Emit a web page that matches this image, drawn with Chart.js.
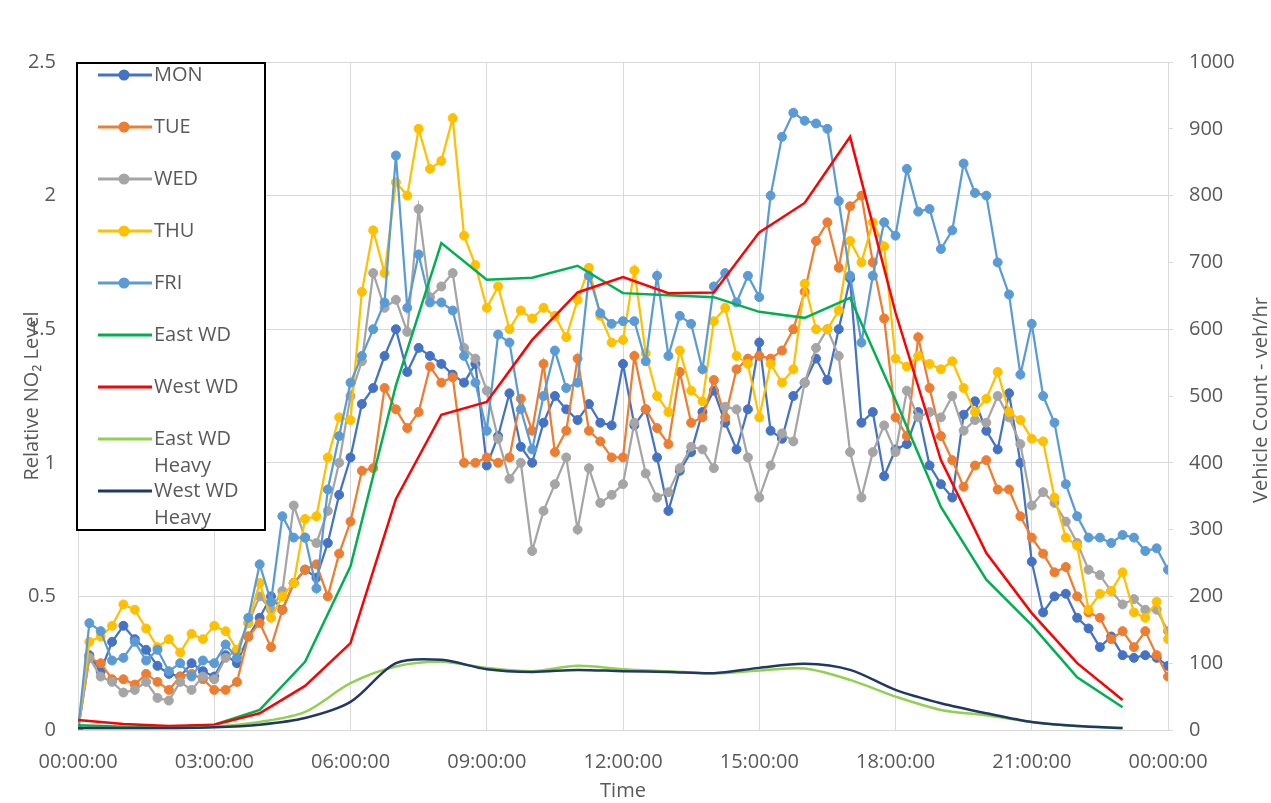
<!DOCTYPE html>
<html>
<head>
<meta charset="utf-8">
<script src="https://cdn.jsdelivr.net/npm/chart.js@4.4.1/dist/chart.umd.min.js"></script>
<style>
  html, body { margin: 0; padding: 0; background: #fff; }
  #wrap { width: 1271px; height: 803px; position: relative; }
</style>
</head>
<body>
<div id="wrap"><canvas id="no2Chart"></canvas></div>
<script>
// relative NO2 level, one reading per 15 minutes from 00:00 to 24:00
const MON = [0, 0.28, 0.22, 0.33, 0.39, 0.34, 0.30, 0.24, 0.21, 0.20, 0.25, 0.22, 0.20, 0.28, 0.25, 0.35,
  0.42, 0.50, 0.45, 0.55, 0.60, 0.57, 0.70, 0.88, 1.02, 1.22, 1.28, 1.40, 1.50, 1.34, 1.43, 1.40,
  1.37, 1.33, 1.30, 1.37, 0.99, 1.10, 1.26, 1.06, 1.00, 1.15, 1.25, 1.20, 1.16, 1.22, 1.15, 1.14,
  1.37, 1.14, 1.20, 1.02, 0.82, 0.97, 1.04, 1.19, 1.27, 1.15, 1.05, 1.20, 1.45, 1.12, 1.09, 1.25,
  1.30, 1.39, 1.31, 1.50, 1.69, 1.15, 1.19, 0.95, 1.05, 1.07, 1.19, 0.99, 0.92, 0.87, 1.18, 1.23,
  1.12, 1.05, 1.26, 1.00, 0.63, 0.44, 0.50, 0.51, 0.42, 0.38, 0.31, 0.35, 0.28, 0.27, 0.28, 0.27, 0.24]
const TUE = [0, 0.27, 0.25, 0.19, 0.19, 0.17, 0.21, 0.18, 0.15, 0.20, 0.21, 0.19, 0.15, 0.15, 0.18, 0.35,
  0.40, 0.31, 0.45, 0.55, 0.60, 0.62, 0.50, 0.66, 0.78, 0.97, 0.98, 1.28, 1.20, 1.13, 1.19, 1.36,
  1.30, 1.32, 1.00, 1.00, 1.02, 1.00, 1.02, 1.24, 1.12, 1.37, 1.04, 1.12, 1.39, 1.12, 1.08, 1.02,
  1.02, 1.40, 1.20, 1.13, 1.07, 1.34, 1.15, 1.17, 1.31, 1.17, 1.35, 1.39, 1.40, 1.39, 1.42, 1.50,
  1.64, 1.83, 1.90, 1.73, 1.96, 2.00, 1.75, 1.54, 1.17, 1.10, 1.47, 1.28, 1.10, 1.01, 0.91, 0.99,
  1.01, 0.90, 0.90, 0.80, 0.72, 0.66, 0.59, 0.61, 0.50, 0.44, 0.42, 0.34, 0.37, 0.31, 0.37, 0.28, 0.20]
const WED = [0, 0.27, 0.20, 0.18, 0.14, 0.15, 0.18, 0.12, 0.11, 0.18, 0.15, 0.20, 0.19, 0.27, 0.30, 0.40,
  0.50, 0.45, 0.52, 0.84, 0.72, 0.70, 0.82, 1.00, 1.25, 1.38, 1.71, 1.58, 1.61, 1.49, 1.95, 1.62,
  1.66, 1.71, 1.43, 1.39, 1.27, 1.09, 0.94, 1.00, 0.67, 0.82, 0.92, 1.02, 0.75, 0.98, 0.85, 0.88,
  0.92, 1.15, 0.96, 0.87, 0.89, 0.98, 1.06, 1.05, 0.98, 1.21, 1.20, 1.02, 0.87, 0.99, 1.11, 1.08,
  1.30, 1.43, 1.50, 1.40, 1.04, 0.87, 1.04, 1.14, 1.04, 1.27, 1.17, 1.19, 1.17, 1.25, 1.12, 1.16,
  1.15, 1.25, 1.17, 1.07, 0.84, 0.89, 0.85, 0.78, 0.70, 0.60, 0.58, 0.52, 0.47, 0.49, 0.45, 0.45, 0.37]
const THU = [0, 0.33, 0.35, 0.39, 0.47, 0.45, 0.38, 0.31, 0.34, 0.29, 0.36, 0.34, 0.39, 0.37, 0.30, 0.40,
  0.55, 0.42, 0.50, 0.55, 0.79, 0.80, 1.02, 1.17, 1.16, 1.64, 1.87, 1.71, 2.05, 2.00, 2.25, 2.10,
  2.13, 2.29, 1.85, 1.74, 1.58, 1.66, 1.50, 1.57, 1.54, 1.58, 1.55, 1.47, 1.61, 1.73, 1.55, 1.45,
  1.46, 1.72, 1.41, 1.25, 1.19, 1.42, 1.27, 1.23, 1.53, 1.58, 1.40, 1.37, 1.17, 1.37, 1.30, 1.35,
  1.67, 1.50, 1.50, 1.57, 1.83, 1.75, 1.90, 1.81, 1.39, 1.36, 1.40, 1.37, 1.35, 1.38, 1.28, 1.19,
  1.24, 1.34, 1.19, 1.16, 1.09, 1.08, 0.87, 0.72, 0.69, 0.45, 0.51, 0.52, 0.59, 0.44, 0.42, 0.48, 0.34]
const FRI = [0, 0.40, 0.37, 0.26, 0.27, 0.33, 0.26, 0.30, 0.22, 0.25, 0.20, 0.26, 0.25, 0.32, 0.27, 0.42,
  0.62, 0.48, 0.80, 0.72, 0.72, 0.53, 0.90, 1.10, 1.30, 1.40, 1.50, 1.60, 2.15, 1.58, 1.78, 1.60,
  1.60, 1.57, 1.40, 1.30, 1.12, 1.48, 1.45, 1.20, 1.05, 1.25, 1.42, 1.28, 1.30, 1.70, 1.56, 1.52,
  1.53, 1.53, 1.38, 1.70, 1.40, 1.55, 1.52, 1.35, 1.66, 1.71, 1.60, 1.70, 1.62, 2.00, 2.22, 2.31,
  2.28, 2.27, 2.25, 1.98, 1.70, 1.45, 1.70, 1.90, 1.85, 2.10, 1.94, 1.95, 1.80, 1.87, 2.12, 2.01,
  2.00, 1.75, 1.63, 1.33, 1.52, 1.25, 1.15, 0.92, 0.80, 0.72, 0.72, 0.70, 0.73, 0.72, 0.67, 0.68, 0.60]

// weekday vehicle counts (veh/hr), hourly
const trafficHours = [0, 1, 2, 3, 4, 5, 6, 7, 8, 9, 10, 11, 12, 13, 14, 15, 16, 17, 18, 19, 20, 21, 22, 23]
const eastWD = [7, 5, 4, 8, 30, 102, 245, 516, 729, 674, 677, 695, 654, 651, 648, 626, 617, 647, 494, 334, 225, 157, 79, 34]
const westWD = [15, 9, 6, 8, 25, 66, 130, 346, 472, 491, 584, 655, 678, 654, 655, 745, 789, 888, 625, 404, 265, 175, 100, 45]
const eastHeavy = [3, 3, 3, 5, 12, 27, 70, 95, 102, 93, 88, 96, 91, 88, 85, 89, 92, 75, 50, 30, 22, 12, 6, 3]
const westHeavy = [3, 3, 3, 4, 8, 18, 42, 100, 105, 91, 87, 90, 88, 87, 85, 93, 99, 90, 60, 40, 25, 12, 6, 3]

const slotMinutes = 15
const xTickStep = 180 // minutes between time labels

const grey = '#595959'
const gridGrey = '#D9D9D9'
const axisFont = "20px 'Open Sans', sans-serif"
Chart.defaults.font.family = "'Open Sans', sans-serif"

const toPoints = (values) => values.map((v, i) => ({ x: i * slotMinutes, y: v }))
const toHourly = (values) => values.map((v, i) => ({ x: trafficHours[i] * 60, y: v }))

const daySeries = (label, values, color, order) => ({
  label, data: toPoints(values), yAxisID: 'y', order,
  borderColor: color, backgroundColor: color,
  borderWidth: 2.25, pointRadius: 4.5, pointBorderWidth: 1,
  pointBackgroundColor: color, pointBorderColor: color, tension: 0,
})
const trafficSeries = (label, values, color, order, tension) => ({
  label, data: toHourly(values), yAxisID: 'y2', order,
  borderColor: color, backgroundColor: color,
  borderWidth: 2.5, pointRadius: 0, tension,
})

const pad2 = (n) => String(n).padStart(2, '0')

// legend drawn as a framed box inside the plot, like the spreadsheet original
const boxLegend = {
  id: 'boxLegend',
  afterDraw(chart) {
    const { ctx } = chart
    ctx.save()
    ctx.fillStyle = '#fff'
    ctx.fillRect(77, 63, 188, 467)
    ctx.strokeStyle = '#000'
    ctx.lineWidth = 2
    ctx.strokeRect(77, 63, 188, 467)
    ctx.font = axisFont
    ctx.textBaseline = 'middle'
    chart.data.datasets.forEach((ds, k) => {
      const y = 75 + k * 52
      ctx.strokeStyle = ds.borderColor
      ctx.lineWidth = 3
      ctx.beginPath()
      ctx.moveTo(98, y)
      ctx.lineTo(152, y)
      ctx.stroke()
      if (ds.pointRadius > 0) {
        ctx.fillStyle = ds.borderColor
        ctx.beginPath()
        ctx.arc(124, y, 5.5, 0, Math.PI * 2)
        ctx.fill()
      }
      ctx.fillStyle = grey
      const lines = Array.isArray(ds.legendText) ? ds.legendText : [ds.label]
      lines.forEach((t, j) => ctx.fillText(t, 154, y + j * 27))
    })

    // right axis title reads bottom to top, as on the left
    const area = chart.chartArea
    ctx.translate(1261, (area.top + area.bottom) / 2 + 4)
    ctx.rotate(-Math.PI / 2)
    ctx.textAlign = 'center'
    ctx.fillText('Vehicle Count - veh/hr', 0, 0)
    ctx.restore()
  }
}

const datasets = [
  daySeries('MON', MON, '#4472C4', 9),
  daySeries('TUE', TUE, '#ED7D31', 8),
  daySeries('WED', WED, '#A5A5A5', 7),
  daySeries('THU', THU, '#FFC000', 6),
  daySeries('FRI', FRI, '#5B9BD5', 5),
  trafficSeries('East WD', eastWD, '#00B050', 4, 0),
  trafficSeries('West WD', westWD, '#FF0000', 3, 0),
  trafficSeries('East WD Heavy', eastHeavy, '#92D050', 2, 0.3),
  trafficSeries('West WD Heavy', westHeavy, '#203864', 1, 0.3),
]
datasets[7].legendText = ['East WD', 'Heavy']
datasets[8].legendText = ['West WD', 'Heavy']

new Chart(document.getElementById('no2Chart'), {
  type: 'line',
  data: { datasets },
  options: {
    responsive: true,
    maintainAspectRatio: false,
    animation: false,
    layout: { padding: { top: 62, left: 0, right: 0, bottom: 0 } },
    plugins: { legend: { display: false }, tooltip: { enabled: false } },
    scales: {
      x: {
        type: 'linear', min: 0, max: 1440,
        afterFit: (s) => { s.height = 73 },
        border: { display: false },
        grid: { color: gridGrey, drawTicks: false },
        ticks: {
          stepSize: xTickStep, autoSkip: false, maxRotation: 0,
          color: grey, font: { size: 20 }, padding: 20,
          callback: (v) => pad2((v / 60) % 24) + ':00:00',
        },
        title: { display: true, text: 'Time', color: grey, font: { size: 20 }, padding: { top: 10, bottom: 0 } },
      },
      y: {
        position: 'left', min: 0, max: 2.5,
        afterFit: (s) => { s.width = 78 },
        border: { display: false },
        grid: { color: gridGrey, drawTicks: false },
        ticks: { stepSize: 0.5, color: grey, font: { size: 20 }, padding: 22, callback: (v) => String(v) },
        title: { display: true, text: 'Relative NO₂ Level', color: grey, font: { size: 20 }, padding: { top: 20, bottom: 0 } },
      },
      y2: {
        position: 'right', min: 0, max: 1000,
        afterFit: (s) => { s.width = 103 },
        border: { display: false },
        grid: { drawOnChartArea: false, color: gridGrey, tickLength: 5 },
        ticks: { stepSize: 100, color: grey, font: { size: 20 }, padding: 16, callback: (v) => String(v) },
        title: { display: false },
      },
    },
  },
  plugins: [boxLegend],
})
</script>
</body>
</html>
